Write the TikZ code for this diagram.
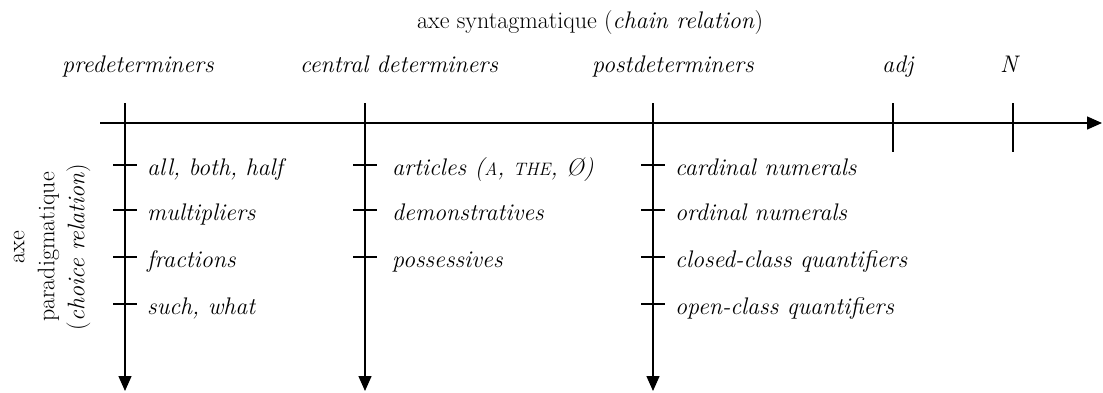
\documentclass[tikz,border=0pt]{standalone}
\usetikzlibrary{arrows.meta}
\begin{document}
\begin{tikzpicture}[x=1pt,y=-1pt,
  axisline/.style={line width=1.4pt},
  arr/.style={line width=1.4pt,-{Triangle[length=15pt,width=13pt]}},
  lab/.style={font=\fontsize{24}{30}\selectfont\itshape, anchor=base west, inner sep=0pt},
  head/.style={font=\fontsize{24}{30}\selectfont\itshape, anchor=base west, inner sep=0pt},
  plain/.style={font=\fontsize{24}{30}\selectfont, anchor=base west, inner sep=0pt}
]
\useasboundingbox (0,0) rectangle (1103,392);
% horizontal axis
\coordinate (hs) at (100,123);
\coordinate (he) at (1102,123);
\draw[arr] (hs) -- (he);
\node[plain] (syn) at (417,28) {axe syntagmatique (\textit{chain relation})};
% column headers
\node[head] (pre) at (62,72) {predeterminers};
\node[head] (cen) at (300,72) {central determiners};
\node[head] (post) at (592,72) {postdeterminers};
\node[head] (adj) at (882,72) {adj};
\node[head] (n) at (1000,72) {N};
% ticks on horizontal axis
\coordinate (adjt) at (893,103); \coordinate (adjb) at (893,152);
\coordinate (nt) at (1013,103); \coordinate (nb) at (1013,152);
\draw[axisline] (adjt) -- (adjb);
\draw[axisline] (nt) -- (nb);
% vertical axes
\foreach \name/\x in {a/125,b/365,c/653}{
  \coordinate (\name top) at (\x,103);
  \coordinate (\name bot) at (\x,391);
  \draw[arr] (\name top) -- (\name bot);
}
% ticks on vertical axes
\foreach \name/\x/\n in {a/125/4,b/365/3,c/653/4}{
  \foreach \y [count=\i] in {165,210,257,304}{
    \ifnum\i>\n\else
      \coordinate (\name\i l) at (\x-12,\y);
      \coordinate (\name\i r) at (\x+12,\y);
      \draw[axisline] (\name\i l) -- (\name\i r);
    \fi
  }
}
% labels
\node[lab] (a1) at (147,175) {all, both, half};
\node[lab] (a2) at (147,220) {multipliers};
\node[lab] (a3) at (147,267) {fractions};
\node[lab] (a4) at (147,314) {such, what};
\node[lab] (b1) at (392,175) {articles ({\fontsize{18}{18}\selectfont A}, {\fontsize{18}{18}\selectfont THE}, Ø)};
\node[lab] (b2) at (392,220) {demonstratives};
\node[lab] (b3) at (392,267) {possessives};
\node[lab] (c1) at (675,175) {cardinal numerals};
\node[lab] (c2) at (675,220) {ordinal numerals};
\node[lab] (c3) at (675,267) {closed-class quantifiers};
\node[lab] (c4) at (675,314) {open-class quantifiers};
% left label
\node[rotate=90, align=center, font=\fontsize{24}{30}\selectfont, inner sep=0pt] (par) at (52,247) {axe\\paradigmatique\\(\textit{choice relation})};
\end{tikzpicture}
\end{document}
